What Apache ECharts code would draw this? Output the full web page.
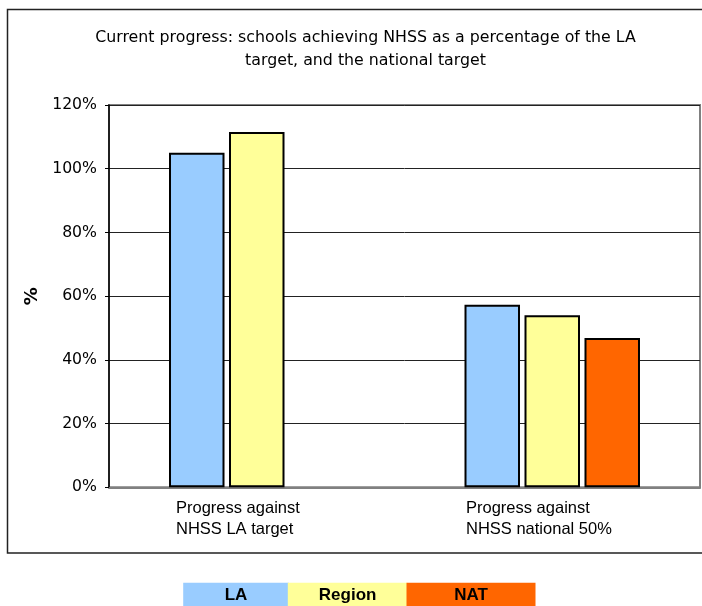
<!DOCTYPE html>
<html>
<head>
<meta charset="utf-8">
<script src="https://cdn.jsdelivr.net/npm/echarts@6/dist/echarts.min.js"></script>
<style>html,body{margin:0;padding:0;background:#fff;}#c{width:702px;height:606px;}</style>
</head>
<body>
<div id="c"></div>
<script>
var categories = ['Progress against\nNHSS LA target', 'Progress against\nNHSS national 50%'];
var laValues = [105.0, 57.3];
var regionValues = [111.5, 54.0];
var natValues = [null, 46.9];
var seriesNames = ['LA', 'Region', 'NAT'];
var seriesColors = ['#99CCFF', '#FFFF99', '#FF6600'];
var yTicks = { min: 0, max: 120, interval: 20 };

var chart = echarts.init(document.getElementById('c'), null, { renderer: 'canvas' });
var tahoma = 'DejaVu Sans';
var arial = 'Liberation Sans';
var legendKeys = { 'LA': 'la', 'Region': 'region', 'NAT': 'nat' };
var legendWidths = { la: 105.6, region: 119.7, nat: 129 };
var rich = {};
seriesNames.forEach(function (n, i) {
  var k = legendKeys[n];
  rich[k] = {
    backgroundColor: seriesColors[i], width: legendWidths[k], height: 26, lineHeight: 26,
    align: 'center', fontWeight: 'bold', fontSize: 17, fontFamily: arial, color: '#000'
  };
});
function bar(name, data, color) {
  return {
    name: name, type: 'bar', data: data, barWidth: 55.5, barGap: '8.1%',
    itemStyle: { color: color, borderColor: '#000', borderWidth: 2 },
    emphasis: { disabled: true }, animation: false
  };
}
chart.setOption({
  animation: false,
  backgroundColor: '#fff',
  title: {
    text: 'Current progress: schools achieving NHSS as a percentage of the LA\ntarget, and the national target',
    left: 365.5, top: 26, textAlign: 'center', padding: 0,
    textStyle: { fontFamily: tahoma, fontSize: 15.8, fontWeight: 'normal', color: '#000', lineHeight: 23 }
  },
  graphic: [{
    type: 'rect', silent: true, z: -1,
    shape: { x: 7.5, y: 9.5, width: 730, height: 543.5 },
    style: { fill: 'none', stroke: '#222', lineWidth: 1.5 }
  }],
  legend: {
    data: seriesNames, left: 177.2, top: 582.7, padding: 0, itemGap: -7,
    itemWidth: 0, itemHeight: 0, icon: 'rect', selectedMode: false,
    formatter: function (n) { return '{' + legendKeys[n] + '|' + n + '}'; },
    textStyle: { rich: rich }
  },
  grid: { left: 109, right: 2, top: 105, bottom: 118.7, show: true, borderColor: '#808080', borderWidth: 2, backgroundColor: '#fff' },
  xAxis: {
    type: 'category', data: categories,
    axisLine: { lineStyle: { color: '#808080', width: 2 } },
    axisTick: { show: false },
    axisLabel: {
      margin: 11, interval: 0,
      formatter: function (v, i) {
        var key = i === 0 ? 'a' : 'b';
        return v.split('\n').map(function (s) { return '{' + key + '|' + s + '}'; }).join('\n');
      },
      rich: {
        a: { width: 161.5, align: 'left', fontFamily: arial, fontSize: 16.5, lineHeight: 20.7, color: '#000' },
        b: { width: 172.5, align: 'left', fontFamily: arial, fontSize: 16.5, lineHeight: 20.7, color: '#000' }
      }
    }
  },
  yAxis: {
    type: 'value', min: yTicks.min, max: yTicks.max, interval: yTicks.interval,
    name: '%', nameLocation: 'middle', nameGap: 63, nameRotate: 90,
    nameTextStyle: { fontFamily: tahoma, fontWeight: 'bold', fontSize: 18, color: '#000' },
    axisLine: { show: true, lineStyle: { color: '#000', width: 1.5 } },
    axisTick: { show: true, length: 4, lineStyle: { color: '#000' } },
    axisLabel: { formatter: '{value}%', margin: 12, fontFamily: tahoma, fontSize: 15.7, color: '#000' },
    splitLine: { lineStyle: { color: '#222', width: 1 } }
  },
  series: [
    bar(seriesNames[0], laValues, seriesColors[0]),
    bar(seriesNames[1], regionValues, seriesColors[1]),
    bar(seriesNames[2], natValues, seriesColors[2])
  ]
});
</script>
</body>
</html>
